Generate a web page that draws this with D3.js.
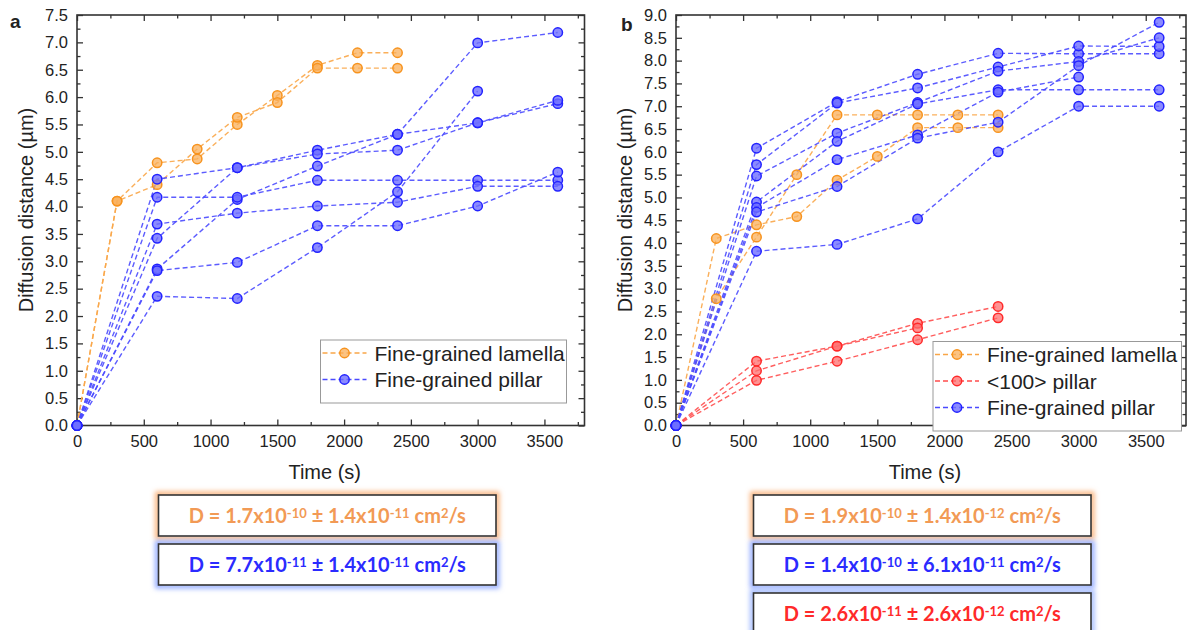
<!doctype html>
<html lang="en">
  <head>
    <meta charset="utf-8">
    <title>Diffusion distance vs time</title>
    <script src="https://d3js.org/d3.v7.min.js"></script>
    <style>
      body { margin: 0; background: white; }
      text { font-family: "Liberation Sans", Arial, sans-serif; fill: #222; }
      .tick text { font-size: 16.5px; }
      .formula text { font-family: Lato, "Open Sans", sans-serif; font-weight: bold; }
    </style>
  </head>
  <body>
    <svg width="1188" height="630"></svg>
    <script>
      // ---- data ----
      var timeTicks = [0, 500, 1000, 1500, 2000, 2500, 3000, 3500];
      var yTicksA = d3.range(0, 7.51, 0.5);
      var yTicksB = d3.range(0, 9.01, 0.5);

      // panel a
      var lamellaTimesA = [0, 300, 600, 900, 1200, 1500, 1800, 2100, 2400];
      var lamellaA = [
        [0, 4.10, 4.80, 4.87, 5.50, 6.03, 6.58, 6.81, 6.81],
        [0, 4.10, 4.40, 5.05, 5.63, 5.90, 6.53, 6.53, 6.53]
      ];
      var pillarTimesA = [0, 600, 1200, 1800, 2400, 3000, 3600];
      var pillarA = [
        [0, 4.50, 4.71, 5.03, 5.32, 6.99, 7.18],
        [0, 3.42, 4.71, 4.96, 5.03, 5.53, 5.88],
        [0, 2.86, 4.13, 4.74, 5.32, 5.53, 5.94],
        [0, 4.17, 4.17, 4.48, 4.48, 4.48, 4.48],
        [0, 3.68, 3.88, 4.01, 4.08, 4.37, 4.37],
        [0, 2.83, 2.98, 3.65, 3.65, 4.01, 4.63],
        [0, 2.36, 2.32, 3.25, 4.27, 6.11]
      ];

      // panel b
      var lamellaTimesB = [0, 300, 600, 900, 1200, 1500, 1800, 2100, 2400];
      var lamellaB = [
        [0, 4.10, 4.40, 4.58, 5.38, 5.90, 6.53, 6.53, 6.53],
        [0, 2.78, 4.13, 5.50, 6.81, 6.81, 6.81, 6.81, 6.81]
      ];
      var pillar100TimesB = [0, 600, 1200, 1800, 2400];
      var pillar100B = [
        [0, 1.41, 1.74, 2.24, 2.61],
        [0, 1.20, 1.74, 2.14],
        [0, 0.99, 1.41, 1.88, 2.36]
      ];
      var pillarTimesB = [0, 600, 1200, 1800, 2400, 3000, 3600];
      var pillarB = [
        [0, 6.08, 7.10, 7.70, 8.16, 8.15, 8.15],
        [0, 5.72, 7.07, 7.40, 7.86, 8.32, 8.31],
        [0, 5.47, 6.41, 7.08, 7.77, 7.98, 8.50],
        [0, 4.90, 6.23, 7.05, 7.36, 7.36, 7.36],
        [0, 4.78, 5.83, 6.37, 7.31, 7.64],
        [0, 4.68, 5.24, 6.30, 6.65, 7.89, 8.84],
        [0, 3.82, 3.97, 4.53, 6.00, 7.00, 7.00]
      ];

      var formulasA = [
        {kind: 'lamella', parts: ['D = 1.7x10', '-10', ' ± 1.4x10', '-11', ' cm', '2', '/s']},
        {kind: 'pillar', parts: ['D = 7.7x10', '-11', ' ± 1.4x10', '-11', ' cm', '2', '/s']}
      ];
      var formulasB = [
        {kind: 'lamella', parts: ['D = 1.9x10', '-10', ' ± 1.4x10', '-12', ' cm', '2', '/s']},
        {kind: 'pillar', parts: ['D = 1.4x10', '-10', ' ± 6.1x10', '-11', ' cm', '2', '/s']},
        {kind: 'pillar100', parts: ['D = 2.6x10', '-11', ' ± 2.6x10', '-12', ' cm', '2', '/s']}
      ];

      // ---- styles ----
      var styles = {
        lamella:   {label: 'Fine-grained lamella', line: '#f9a648', fill: 'rgba(250,175,90,0.75)', stroke: '#f7931e', text: '#f29a55', glow: '#f9b27a'},
        pillar100: {label: '<100> pillar',         line: '#ff4c4c', fill: 'rgba(255,110,110,0.75)', stroke: '#ff2a2a', text: '#ff2a2a', glow: '#9fb8ff'},
        pillar:    {label: 'Fine-grained pillar',  line: '#4a4aff', fill: 'rgba(110,110,255,0.8)', stroke: '#2222ff', text: '#2b2bff', glow: '#8fa8ff'}
      };

      var svg = d3.select('svg');
      var defs = svg.append('defs');
      defs.append('filter').attr('id', 'glow')
        .attr('x', '-10%').attr('y', '-30%').attr('width', '120%').attr('height', '160%')
        .append('feGaussianBlur').attr('stdDeviation', 2.6);

      function drawPanel(cfg) {
        var x = d3.scaleLinear().domain([0, 3800]).range([cfg.left, cfg.right]);
        var y = d3.scaleLinear().domain([0, cfg.ymax]).range([425.5, 15]);
        var g = svg.append('g');

        var minorX = d3.range(250, 3800, 500);
        var minorY = d3.range(0.25, cfg.ymax, 0.5);

        // major / minor ticks, all pointing inward
        g.append('g').attr('transform', 'translate(0,425.5)')
          .call(d3.axisBottom(x).tickValues(timeTicks).tickSizeInner(-6).tickSizeOuter(0).tickPadding(10).tickFormat(d3.format('d')));
        g.append('g').attr('transform', 'translate(0,425.5)')
          .call(d3.axisBottom(x).tickValues(minorX).tickSizeInner(-3.5).tickSizeOuter(0).tickFormat(''));
        g.append('g').attr('transform', 'translate(0,15)')
          .call(d3.axisTop(x).tickValues(timeTicks).tickSizeInner(-6).tickSizeOuter(0).tickFormat(''));
        g.append('g').attr('transform', 'translate(0,15)')
          .call(d3.axisTop(x).tickValues(minorX).tickSizeInner(-3.5).tickSizeOuter(0).tickFormat(''));
        g.append('g').attr('transform', 'translate(' + cfg.left + ',0)')
          .call(d3.axisLeft(y).tickValues(cfg.yTicks).tickSizeInner(-6).tickSizeOuter(0).tickPadding(9).tickFormat(d3.format('.1f')));
        g.append('g').attr('transform', 'translate(' + cfg.left + ',0)')
          .call(d3.axisLeft(y).tickValues(minorY).tickSizeInner(-3.5).tickSizeOuter(0).tickFormat(''));
        g.append('g').attr('transform', 'translate(' + cfg.right + ',0)')
          .call(d3.axisRight(y).tickValues(cfg.yTicks).tickSizeInner(-6).tickSizeOuter(0).tickFormat(''));
        g.append('g').attr('transform', 'translate(' + cfg.right + ',0)')
          .call(d3.axisRight(y).tickValues(minorY).tickSizeInner(-3.5).tickSizeOuter(0).tickFormat(''));
        g.selectAll('.domain').remove();
        g.selectAll('.tick line').attr('stroke', '#333').attr('stroke-width', 1.3);
        g.selectAll('.tick text').attr('fill', '#222');

        g.append('rect')
          .attr('x', cfg.left).attr('y', 15)
          .attr('width', cfg.right - cfg.left).attr('height', 410.5)
          .attr('fill', 'none').attr('stroke', '#333').attr('stroke-width', 1.6);

        var line = d3.line()
          .x(function(d) { return x(d[0]); })
          .y(function(d) { return y(d[1]); });

        cfg.groups.forEach(function(grp) {
          var st = styles[grp.kind];
          grp.series.forEach(function(vals) {
            var pts = vals.map(function(v, i) { return [grp.times[i], v]; });
            g.append('path').datum(pts)
              .attr('d', line)
              .attr('fill', 'none')
              .attr('stroke', st.line)
              .attr('stroke-width', 1.4)
              .attr('stroke-opacity', 0.9)
              .attr('stroke-dasharray', '5,3');
          });
        });
        cfg.groups.forEach(function(grp) {
          var st = styles[grp.kind];
          grp.series.forEach(function(vals) {
            g.append('g').selectAll('circle')
              .data(vals.map(function(v, i) { return [grp.times[i], v]; }))
              .enter().append('circle')
              .attr('cx', function(d) { return x(d[0]); })
              .attr('cy', function(d) { return y(d[1]); })
              .attr('r', 4.7)
              .attr('fill', st.fill)
              .attr('stroke', st.stroke)
              .attr('stroke-width', 1.5);
          });
        });

        // axis titles and panel letter
        g.append('text')
          .attr('transform', 'translate(' + (cfg.left - 44) + ',210) rotate(-90)')
          .attr('text-anchor', 'middle')
          .style('font-size', '20px')
          .text('Diffusion distance (\u00b5m)');
        g.append('text')
          .attr('x', (cfg.left + cfg.right) / 2 - 6).attr('y', 479)
          .attr('text-anchor', 'middle')
          .style('font-size', '20px')
          .text('Time (s)');
        g.append('text')
          .attr('x', cfg.letterX).attr('y', cfg.letterY)
          .style('font-size', '19px').style('font-weight', 'bold')
          .text(cfg.letter);

        // legend
        var lg = g.append('g');
        var rows = cfg.legend.kinds.length;
        lg.append('rect')
          .attr('x', cfg.legend.x).attr('y', cfg.legend.y)
          .attr('width', cfg.legend.w).attr('height', rows * 26.5 + 10)
          .attr('fill', 'white').attr('stroke', '#999').attr('stroke-width', 1);
        cfg.legend.kinds.forEach(function(k, i) {
          var st = styles[k];
          var cy = cfg.legend.y + 13 + i * 26.5;
          var x0 = cfg.legend.x;
          lg.append('line')
            .attr('x1', x0 + 2).attr('x2', x0 + 46).attr('y1', cy).attr('y2', cy)
            .attr('stroke', st.line).attr('stroke-width', 1.4).attr('stroke-dasharray', '5,3');
          lg.append('circle')
            .attr('cx', x0 + 24).attr('cy', cy).attr('r', 4.7)
            .attr('fill', st.fill).attr('stroke', st.stroke).attr('stroke-width', 1.5);
          lg.append('text')
            .attr('x', x0 + 54).attr('y', cy + 7.5)
            .style('font-size', '21px')
            .text(st.label);
        });

        // formula boxes
        cfg.formulas.forEach(function(f, i) {
          var st = styles[f.kind];
          var bx = cfg.box.x, by = 495 + i * 49, bw = cfg.box.w, bh = 41;
          var fg = g.append('g').attr('class', 'formula');
          fg.append('rect')
            .attr('x', bx - 1).attr('y', by - 1).attr('width', bw + 2).attr('height', bh + 2)
            .attr('fill', 'none').attr('stroke', st.glow).attr('stroke-width', 5)
            .attr('filter', 'url(#glow)');
          fg.append('rect')
            .attr('x', bx).attr('y', by).attr('width', bw).attr('height', bh)
            .attr('fill', 'white').attr('stroke', '#333').attr('stroke-width', 1.6);
          var t = fg.append('text')
            .attr('x', bx + bw / 2).attr('y', by + 28)
            .attr('text-anchor', 'middle')
            .style('font-size', '20px')
            .style('fill', st.text);
          f.parts.forEach(function(p, j) {
            var sup = (j % 2 === 1);
            t.append('tspan')
              .attr('baseline-shift', sup ? '38%' : null)
              .style('font-size', sup ? '13px' : null)
              .style('fill', st.text)
              .text(p);
          });
        });
      }

      drawPanel({
        left: 77, right: 584.5, ymax: 7.5, yTicks: yTicksA,
        letter: 'a', letterX: 10, letterY: 28,
        groups: [
          {kind: 'lamella', times: lamellaTimesA, series: lamellaA},
          {kind: 'pillar', times: pillarTimesA, series: pillarA}
        ],
        legend: {x: 320.5, y: 340, w: 246, kinds: ['lamella', 'pillar']},
        box: {x: 158.5, w: 337.5},
        formulas: formulasA
      });

      drawPanel({
        left: 676, right: 1186, ymax: 9, yTicks: yTicksB,
        letter: 'b', letterX: 621, letterY: 31,
        groups: [
          {kind: 'lamella', times: lamellaTimesB, series: lamellaB},
          {kind: 'pillar100', times: pillar100TimesB, series: pillar100B},
          {kind: 'pillar', times: pillarTimesB, series: pillarB}
        ],
        legend: {x: 933, y: 341.5, w: 248.5, kinds: ['lamella', 'pillar100', 'pillar']},
        box: {x: 753.5, w: 337.5},
        formulas: formulasB
      });
    </script>
  </body>
</html>
